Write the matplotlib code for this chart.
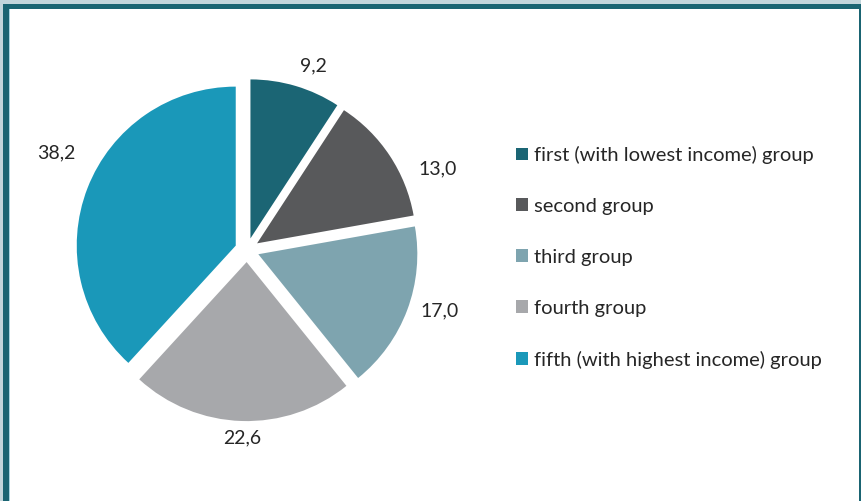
import numpy as np
import matplotlib.pyplot as plt
from matplotlib.patches import Rectangle

plt.rcParams['font.family'] = ['Lato', 'DejaVu Sans']

# income groups and their share, %
groups = [
    "first (with lowest income) group",
    "second group",
    "third group",
    "fourth group",
    "fifth (with highest income) group",
]
shares = [9.2, 13.0, 17.0, 22.6, 38.2]
share_labels = ["9,2", "13,0", "17,0", "22,6", "38,2"]
colors = ["#1b6574", "#58595b", "#7ea4af", "#a7a8ab", "#1a98b9"]

# label placement tweaks (angle nudge in degrees, radius)
label_nudge = [-3.4, -10.5, 3.1, 0.3, -5.8]
label_radius = [1.23, 1.30, 1.27, 1.18, 1.35]

W, H = 861, 501
fig = plt.figure(figsize=(W / 100, H / 100), dpi=100)

# frame: light outer band, dark teal border
def px_rect(x0, y0, w, h, color):
    fig.patches.append(Rectangle((x0 / W, 1 - (y0 + h) / H), w / W, h / H,
                                 transform=fig.transFigure, color=color,
                                 zorder=0, lw=0))

px_rect(0, 0, W, 4, "#c2d5db")
px_rect(0, 0, 3, H, "#c2d5db")
px_rect(3, 4, W - 3, 5, "#1a6472")
px_rect(3, 4, 6, H - 4, "#1a6472")
px_rect(9, 9, 1, H - 9, "#a9d3df")
px_rect(859, 9, 2, H - 9, "#1a6472")

# pie axes: centre ~ (247, 250) px, radius 159 px, limits +-1.6
R = 159
cx, cy = 247, 250
half = 1.6 * R
ax = fig.add_axes([(cx - half) / W, 1 - (cy + half) / H, 2 * half / W, 2 * half / H])

wedges, _ = ax.pie(shares, colors=colors, startangle=90, counterclock=False,
                   explode=[0.076] * len(shares), radius=1,
                   wedgeprops=dict(linewidth=0))
ax.set_xlim(-1.6, 1.6)
ax.set_ylim(-1.6, 1.6)
ax.set_aspect("equal")
ax.axis("off")

for w, lab, nudge, rr in zip(wedges, share_labels, label_nudge, label_radius):
    ang = np.deg2rad((w.theta1 + w.theta2) / 2 + nudge)
    ax.text(rr * np.cos(ang), rr * np.sin(ang), lab, ha="center", va="center",
            fontsize=14, color="#262626")

fig.legend(wedges, groups, loc="upper left", bbox_to_anchor=(506 / W, 1 - 136 / H),
           frameon=False, fontsize=14.5, handlelength=0.6, handleheight=0.6,
           handletextpad=0.3, labelspacing=1.68, borderpad=0, labelcolor="#262626")

fig.savefig("out.png", dpi=100)
